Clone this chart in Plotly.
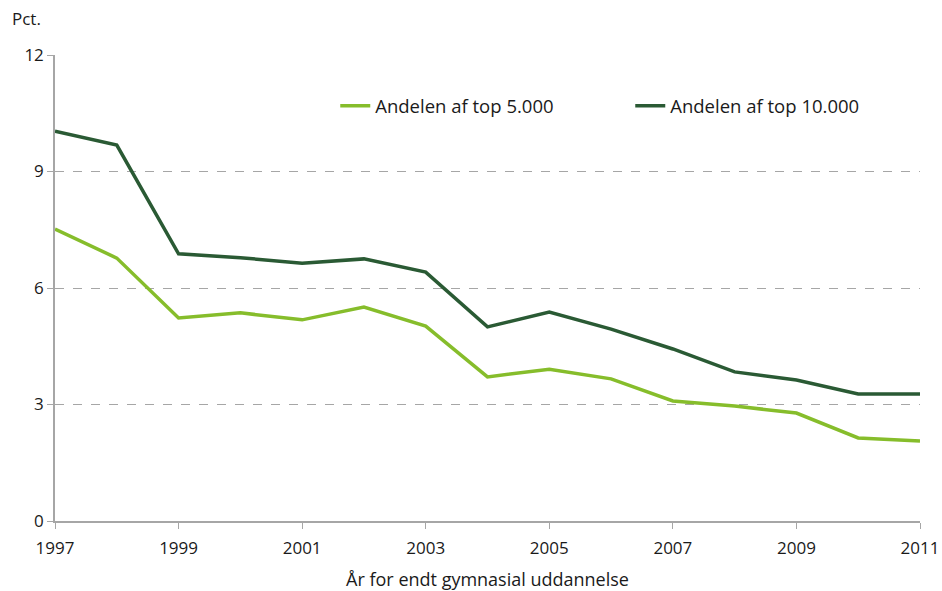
import plotly.graph_objects as go

# %% Data
years = list(range(1997, 2012))
top_5000 = [7.52, 6.77, 5.23, 5.36, 5.18, 5.51, 5.02, 3.71, 3.91, 3.66, 3.09, 2.96, 2.78, 2.14, 2.06]
top_10000 = [10.04, 9.68, 6.88, 6.78, 6.64, 6.75, 6.41, 5.00, 5.38, 4.94, 4.43, 3.84, 3.63, 3.27, 3.27]
y_ticks = [0, 3, 6, 9, 12]
x_ticks = [1997, 1999, 2001, 2003, 2005, 2007, 2009, 2011]

LIGHT = "#86bd2b"
DARK = "#2a5a34"
FONT = "Open Sans"
TXT = "#1a1a1a"

# %% Figure
fig = go.Figure()
fig.add_trace(go.Scatter(x=years, y=top_5000, mode="lines", name="Andelen af top 5.000",
                         line=dict(color=LIGHT, width=3.5)))
fig.add_trace(go.Scatter(x=years, y=top_10000, mode="lines", name="Andelen af top 10.000",
                         line=dict(color=DARK, width=3.5)))

fig.update_xaxes(
    range=[1997, 2011], tickvals=x_ticks, ticks="outside", ticklen=6, tickcolor="#a6a6a6",
    showline=True, linecolor="#a6a6a6", linewidth=1.5, showgrid=False, zeroline=False,
    tickfont=dict(size=17, color=TXT), automargin=False, ticklabelstandoff=5,
    title=dict(text="År for endt gymnasial uddannelse", font=dict(size=18, color=TXT), standoff=16),
)
fig.update_yaxes(
    range=[0, 12], tickvals=y_ticks, ticks="outside", ticklen=6, tickcolor="#a6a6a6",
    showline=True, linecolor="#a6a6a6", linewidth=1.5,
    showgrid=True, gridcolor="#a6a6a6", griddash="dash", gridwidth=1, zeroline=False,
    tickfont=dict(size=17, color=TXT), automargin=False,
)
fig.add_annotation(text="Pct.", xref="paper", yref="paper", x=-0.052, y=1.078,
                   xanchor="left", yanchor="middle", showarrow=False,
                   font=dict(size=17, color=TXT))

fig.update_layout(
    width=942, height=591,
    margin=dict(l=55, r=22, t=55, b=70),
    plot_bgcolor="white", paper_bgcolor="white",
    font=dict(family=FONT),
    legend=dict(orientation="h", x=0.324, y=0.89, xanchor="left", yanchor="middle",
                font=dict(size=18.5, color=TXT), bgcolor="rgba(0,0,0,0)",
                entrywidth=250, entrywidthmode="pixels"),
)

# drop the default 8px body margin so the figure fills the window exactly
fig.write_html("out.html", config={"displayModeBar": False},
               post_script="document.body.style.margin='0';")
